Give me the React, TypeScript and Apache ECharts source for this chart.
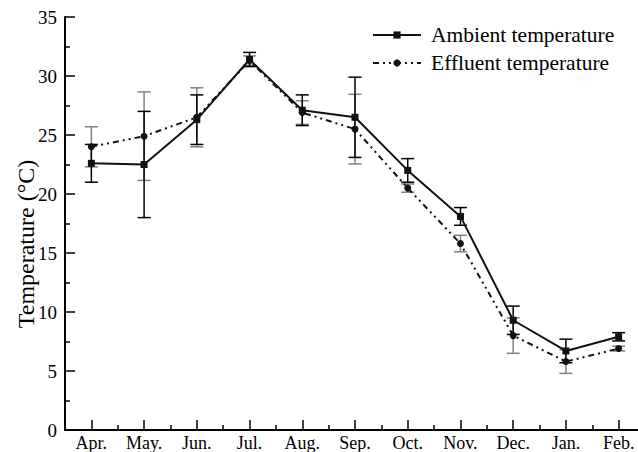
import React, { useEffect, useRef } from "react";
import * as echarts from "echarts";

// Months of the sampling campaign (April to February)
const months = ["Apr.", "May.", "Jun.", "Jul.", "Aug.", "Sep.", "Oct.", "Nov.", "Dec.", "Jan.", "Feb."];

// Monthly means (°C) and their standard deviations
const ambientTemp = [22.6, 22.5, 26.3, 31.4, 27.1, 26.5, 22.0, 18.1, 9.3, 6.7, 7.9];
const ambientSd = [1.6, 4.5, 2.1, 0.6, 1.3, 3.4, 1.0, 0.75, 1.2, 1.0, 0.35];
const effluentTemp = [24.0, 24.9, 26.5, 31.3, 26.9, 25.5, 20.5, 15.8, 8.0, 5.8, 6.9];
const effluentSd = [1.7, 3.75, 2.5, 0.4, 1.0, 2.95, 0.35, 0.7, 1.5, 1.0, 0.2];

const yTicks = [0, 5, 10, 15, 20, 25, 30, 35];
const yTitle = "Temperature (°C)";

const SERIF = "'Liberation Serif', 'Times New Roman', serif";

function errorBarSeries(name: string, means: number[], sds: number[], color: string) {
  return {
    type: "custom",
    name,
    z: 1,
    silent: true,
    encode: { x: 0, y: [1, 2] },
    data: means.map((m, i) => [i, m - sds[i], m + sds[i]]),
    renderItem: (_params: any, api: any) => {
      const x = api.value(0);
      const top = api.coord([x, api.value(2)]);
      const bot = api.coord([x, api.value(1)]);
      const hw = 6.5;
      const style = { stroke: color, lineWidth: 1.5 };
      return {
        type: "group",
        children: [
          { type: "line", shape: { x1: top[0], y1: top[1], x2: bot[0], y2: bot[1] }, style },
          { type: "line", shape: { x1: top[0] - hw, y1: top[1], x2: top[0] + hw, y2: top[1] }, style },
          { type: "line", shape: { x1: bot[0] - hw, y1: bot[1], x2: bot[0] + hw, y2: bot[1] }, style },
        ],
      };
    },
  };
}

export default function App() {
  const ref = useRef<HTMLDivElement>(null);

  useEffect(() => {
    if (!ref.current) return;
    const chart = echarts.init(ref.current, null, { renderer: "svg" });
    chart.setOption({
      animation: false,
      backgroundColor: "#ffffff",
      textStyle: { fontFamily: SERIF, color: "#000" },
      // the x axis runs on past the visible right edge, so the canvas is a bit wider than the frame
      grid: { left: 65, right: 0, top: 17, bottom: 21 },
      legend: {
        orient: "vertical",
        left: 372,
        top: 24,
        padding: 0,
        itemWidth: 48,
        itemHeight: 9,
        itemGap: 6,
        data: ["Ambient temperature", "Effluent temperature"],
        textStyle: { fontFamily: SERIF, fontSize: 21.5, color: "#000", padding: [0, 0, 0, 5] },
      },
      graphic: [
        {
          type: "text",
          x: 26,
          y: 244,
          rotation: Math.PI / 2,
          style: {
            text: yTitle,
            font: `24px ${SERIF}`,
            fill: "#000",
            textAlign: "center",
            textVerticalAlign: "middle",
          },
        },
      ],
      xAxis: {
        type: "value",
        min: -0.5,
        max: 10.5,
        splitNumber: 11,
        minInterval: 1,
        maxInterval: 1,
        splitLine: { show: false },
        axisLine: { onZero: false, lineStyle: { color: "#000", width: 2 } },
        axisTick: { inside: true, length: 10, lineStyle: { color: "#000", width: 1.5 } },
        minorTick: { show: true, splitNumber: 2, length: 5, lineStyle: { color: "#000", width: 1.5 } },
        axisLabel: {
          fontFamily: SERIF,
          fontSize: 18,
          color: "#000",
          margin: 4,
          showMinLabel: false,
          showMaxLabel: false,
          formatter: (v: number) => (Number.isInteger(v) && v >= 0 && v < months.length ? months[v] : ""),
        },
      },
      yAxis: {
        type: "value",
        min: yTicks[0],
        max: yTicks[yTicks.length - 1],
        interval: 5,
        splitLine: { show: false },
        axisLine: { show: true, onZero: false, lineStyle: { color: "#000", width: 2 } },
        axisTick: { show: true, inside: true, length: 10, lineStyle: { color: "#000", width: 1.5 } },
        minorTick: { show: true, splitNumber: 2, length: 5, lineStyle: { color: "#000", width: 1.5 } },
        axisLabel: { fontFamily: SERIF, fontSize: 19, color: "#000", margin: 8 },
      },
      series: [
        errorBarSeries("Effluent SD", effluentTemp, effluentSd, "#808080"),
        errorBarSeries("Ambient SD", ambientTemp, ambientSd, "#000"),
        {
          type: "line",
          name: "Effluent temperature",
          z: 3,
          data: effluentTemp.map((v, i) => [i, v]),
          symbol: "circle",
          symbolSize: 7,
          itemStyle: { color: "#111" },
          lineStyle: { color: "#111", width: 2, type: [6, 4, 2, 4, 2, 4] },
        },
        {
          type: "line",
          name: "Ambient temperature",
          z: 4,
          data: ambientTemp.map((v, i) => [i, v]),
          symbol: "rect",
          symbolSize: 7,
          itemStyle: { color: "#111" },
          lineStyle: { color: "#111", width: 2 },
        },
      ],
    });
    return () => chart.dispose();
  }, []);

  return (
    <div
      style={{
        position: "absolute",
        left: 0,
        top: 0,
        width: 638,
        height: 452,
        overflow: "hidden",
        background: "#fff",
      }}
    >
      <div ref={ref} style={{ width: 645, height: 452 }} />
    </div>
  );
}
